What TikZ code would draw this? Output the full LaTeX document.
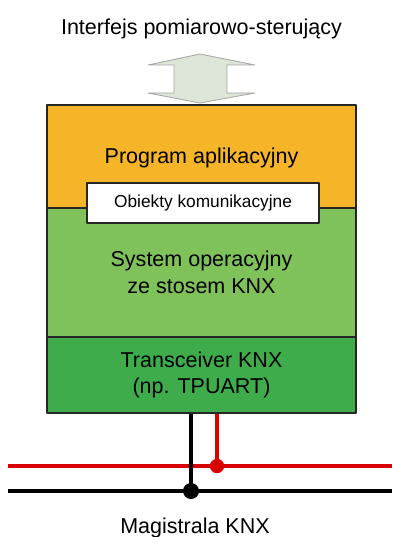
\documentclass[tikz,border=0pt]{standalone}
\usepackage{fontspec}
\setmainfont{Liberation Sans}
\usepackage{tikz}
\definecolor{appcol}{RGB}{246,180,40}
\definecolor{oscol}{RGB}{128,194,90}
\definecolor{trxcol}{RGB}{62,172,74}
\definecolor{ifcol}{RGB}{221,230,214}
\begin{document}
\begin{tikzpicture}[x=0.25mm,y=-0.25mm,line join=round,
    layer/.style={draw=black!85,line width=1.3pt,minimum width=77.25mm,inner sep=0pt,align=center,font=\fontsize{15.3}{19}\selectfont},
    label node/.style={inner sep=0pt,align=center,font=\fontsize{15.3}{19}\selectfont},
    bus/.style={line width=2.2pt},
    dot/.style={circle,inner sep=0pt,minimum size=4mm}]
   \useasboundingbox (0,0) rectangle (392,537);

   % interfejs i strzalka
   \node[label node] (iface) at (201.5,29) {Interfejs pomiarowo-sterujący};
   \draw[fill=ifcol,draw=black!35,line width=0.6pt] (200,54) -- (255,65) -- (227,65) -- (227,93) -- (255,93)
      -- (200,103) -- (148,93) -- (174,93) -- (174,65) -- (148,65) -- cycle;

   % warstwy
   \node[layer, fill=appcol, minimum height=25.75mm] (app) at (201.5,156.5) {};
   \node[label node] (appText) at (201.5,158) {Program aplikacyjny};
   \node[layer, fill=oscol, minimum height=32.25mm] (os) at (201.5,272.5) {System operacyjny\\ze stosem KNX};
   \node[layer, fill=trxcol, minimum height=19mm] (trx) at (201.5,375) {Transceiver KNX\\(np. TPUART)};
   \node[layer, fill=white, minimum width=58mm, minimum height=10mm, font=\fontsize{12.3}{14}\selectfont] (obj) at (203,203) {Obiekty komunikacyjne};

   % magistrala
   \coordinate (redL) at (8,466);
   \coordinate (redR) at (392,466);
   \coordinate (blkL) at (8,491);
   \coordinate (blkR) at (392,491);
   \node[dot, fill=red!85!black, minimum size=3.6mm] (jR) at (217,466) {};
   \node[dot, fill=black] (jB) at (191,491) {};
   \draw[bus, red!85!black] (redL) -- (redR);
   \draw[bus] (blkL) -- (blkR);
   \draw[bus, red!85!black] (trx.south -| jR) -- (jR.center);
   \draw[bus] (trx.south -| jB) -- (jB.center);

   \node[label node] (bus) at (195,528) {Magistrala KNX};
\end{tikzpicture}
\end{document}
